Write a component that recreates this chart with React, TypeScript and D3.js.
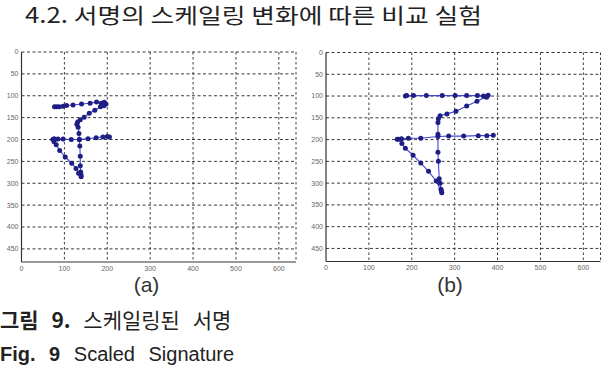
import React from "react";
import * as d3 from "d3";

const xTicks = [0, 100, 200, 300, 400, 500, 600];
const yTicks = [0, 50, 100, 150, 200, 250, 300, 350, 400, 450];
const xDomain = [0, 640];
const yDomain = [0, 480];

// (a) signature points, in drawing order
const aX = [77, 82, 88, 97, 105, 120, 140, 160, 175, 186, 193, 197, 192,
  184, 171, 158, 146, 137, 131, 129, 132,
  134, 135, 136, 137, 137, 138, 139, 139,
  133, 127, 117, 102, 89, 81, 76, 73, 76,
  85, 97, 116, 135, 155, 174, 190, 200, 205];
const aY = [125, 125, 125, 124, 122, 121, 119, 117, 114, 117, 115, 119, 123,
  125, 133, 140, 149, 155, 160, 165, 172,
  186, 200, 215, 238, 260, 274, 281, 285,
  277, 266, 254, 240, 225, 212, 205, 200, 198,
  199, 199, 200, 200, 198, 196, 194, 193, 194];

// (b) signature points, in drawing order
const bX = [185, 188, 204, 234, 271, 301, 328, 353, 367, 374, 378, 375,
  352, 328, 303, 282, 266, 262, 261,
  261, 261, 262, 264, 266, 268, 269, 270,
  257, 239, 221, 203, 185, 177, 169, 166,
  176, 192, 221, 261, 286, 321, 355, 375, 390];
const bY = [100, 99, 99, 99, 99, 99, 99, 99, 100, 103, 98, 101,
  112, 123, 135, 141, 145, 152, 161,
  188, 229, 250, 290, 300, 314, 318, 322,
  295, 273, 254, 236, 220, 209, 199, 199,
  198, 197, 197, 193, 192, 192, 191, 191, 190];

const panelLabels = ["(a)", "(b)"];

function Panel({ x0, y0, w, h, xs, ys }: { x0: number; y0: number; w: number; h: number; xs: number[]; ys: number[] }) {
  const x = d3.scaleLinear().domain(xDomain).range([x0, x0 + w]);
  const y = d3.scaleLinear().domain(yDomain).range([y0, y0 + h]);
  const pts: [number, number][] = xs.map((v, i) => [x(v), y(ys[i])]);
  const line = d3.line()(pts) || "";
  const grid = "#3a3a3a";
  return (
    <g>
      {xTicks.filter((t) => t > 0).map((t) => (
        <line key={"vx" + t} x1={x(t)} x2={x(t)} y1={y0} y2={y0 + h} stroke={grid} strokeWidth={1} strokeDasharray="2.5,2.5" />
      ))}
      <line x1={x(640)} x2={x(640)} y1={y0} y2={y0 + h} stroke={grid} strokeWidth={1} strokeDasharray="2.5,2.5" />
      {yTicks.map((t) => (
        <line key={"hy" + t} x1={x0} x2={x0 + w} y1={y(t)} y2={y(t)} stroke={grid} strokeWidth={1} strokeDasharray="3,2.5" />
      ))}
      <line x1={x0} x2={x0} y1={y0} y2={y0 + h} stroke="#333" strokeWidth={1.2} />
      <line x1={x0} x2={x0 + w} y1={y0 + h} y2={y0 + h} stroke="#333" strokeWidth={1.2} />
      {yTicks.map((t) => (
        <text key={"ly" + t} x={x0 - 3} y={y(t)} dy="0.35em" textAnchor="end" fontSize={7} fill="#666" fontFamily="Liberation Sans, Arial, sans-serif">{t}</text>
      ))}
      {xTicks.map((t) => (
        <text key={"lx" + t} x={x(t)} y={y0 + h + 8.5} textAnchor="middle" fontSize={7} fill="#666" fontFamily="Liberation Sans, Arial, sans-serif">{t}</text>
      ))}
      <path d={line} fill="none" stroke="#4545d8" strokeWidth={1.1} />
      {pts.map((p, i) => (
        <circle key={i} cx={p[0]} cy={p[1]} r={2.5} fill="#1e1e85" />
      ))}
    </g>
  );
}

export default function App() {
  return (
    <svg width={608} height={366} style={{ position: "absolute", left: 0, top: 0, background: "#fff" }}>
      <rect width={608} height={366} fill="#fff" />
      <text x={25} y={23} fontSize={21} fill="#222" fontFamily="Noto Sans CJK KR, sans-serif" textLength={457} lengthAdjust="spacingAndGlyphs">4.2. 서명의 스케일링 변화에 따른 비교 실험</text>
      <Panel x0={21.5} y0={52} w={274.5} h={210} xs={aX} ys={aY} />
      <Panel x0={326} y0={52.5} w={274.5} h={209} xs={bX} ys={bY} />
      <text x={146.5} y={292} textAnchor="middle" fontSize={21} fill="#333" fontFamily="Liberation Sans, Arial, sans-serif">{panelLabels[0]}</text>
      <text x={450} y={292} textAnchor="middle" fontSize={21} fill="#333" fontFamily="Liberation Sans, Arial, sans-serif">{panelLabels[1]}</text>
      <text x={0} y={328} fontSize={21} fill="#222" fontFamily="Noto Sans CJK KR, sans-serif" wordSpacing={8}>
        <tspan fontWeight="bold">그림 9.</tspan> 스케일링된 서명
      </text>
      <text x={0} y={361} fontSize={20} fill="#222" fontFamily="Liberation Sans, Arial, sans-serif" wordSpacing={8}>
        <tspan fontWeight="bold">Fig. 9</tspan> Scaled Signature
      </text>
    </svg>
  );
}
